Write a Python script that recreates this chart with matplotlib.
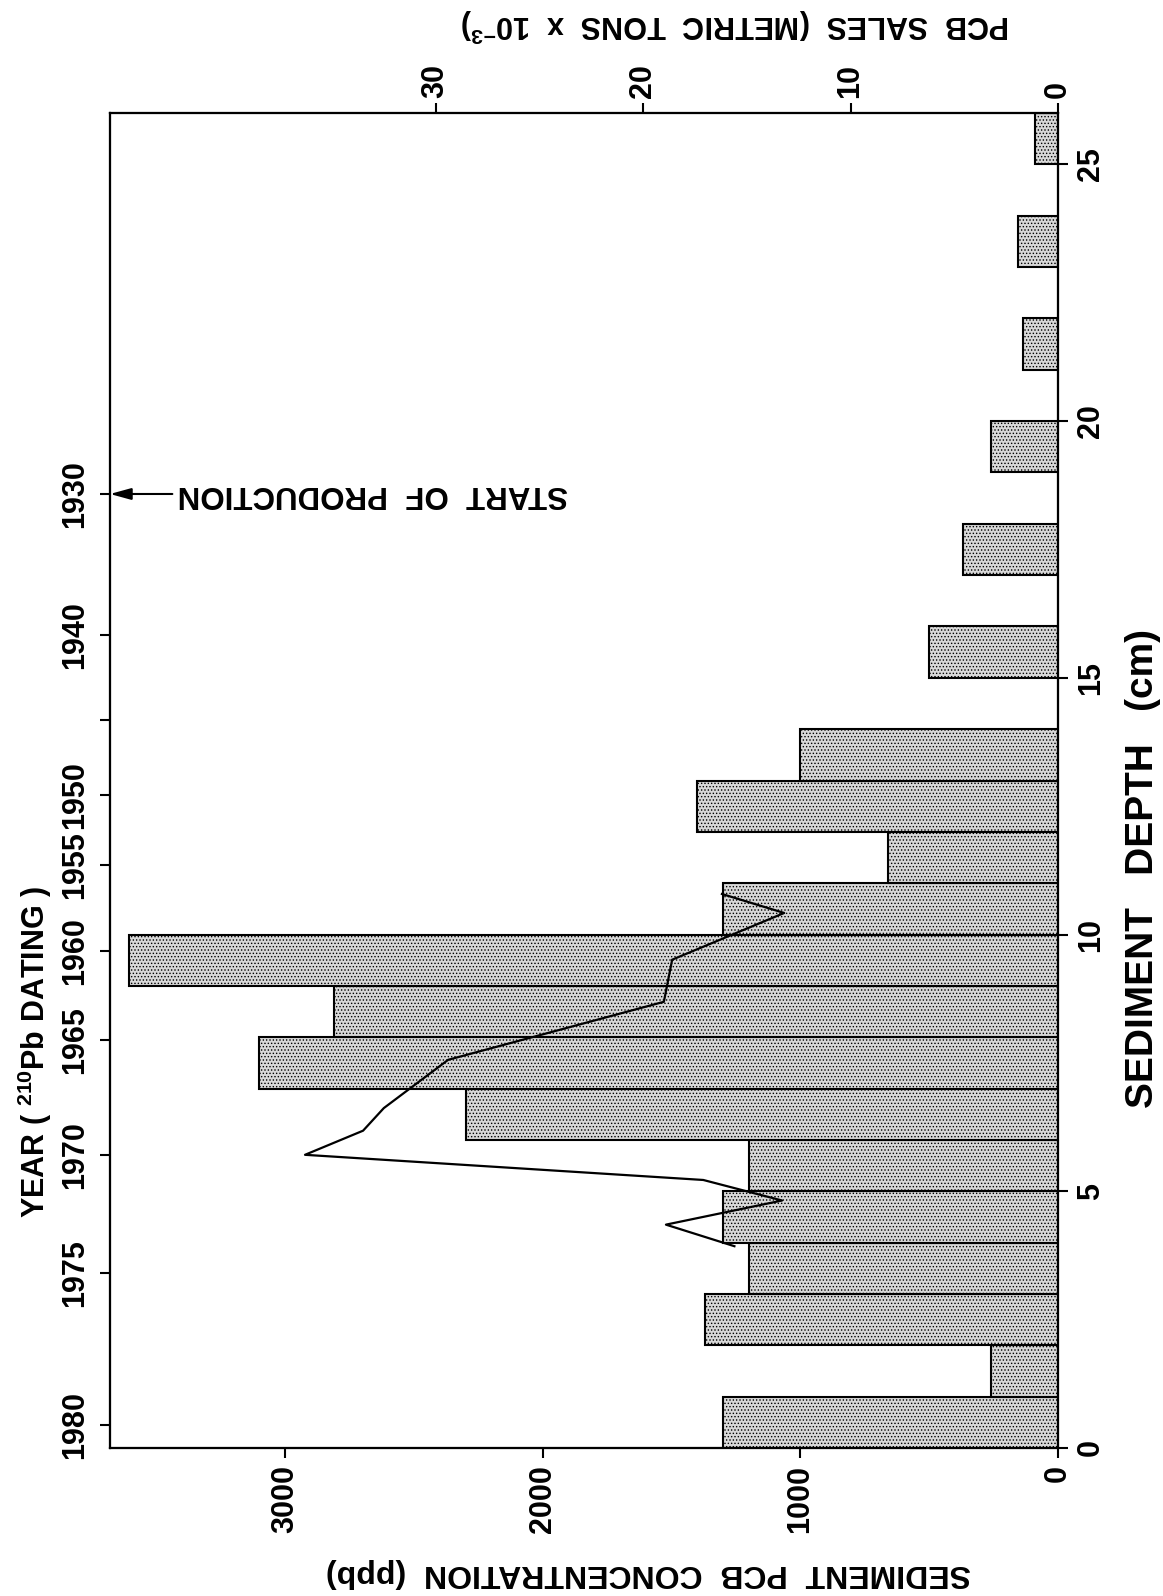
import numpy as np
import matplotlib
matplotlib.use("Agg")
import matplotlib.pyplot as plt

plt.rcParams['font.family'] = ['Liberation Sans', 'DejaVu Sans']
plt.rcParams['font.weight'] = 'bold'
plt.rcParams['mathtext.fontset'] = 'custom'
plt.rcParams['mathtext.rm'] = 'Liberation Sans:bold'
plt.rcParams['mathtext.it'] = 'Liberation Sans:bold'
plt.rcParams['mathtext.bf'] = 'Liberation Sans:bold'
plt.rcParams['hatch.linewidth'] = 0.6

# fatias de sedimento de 1 cm (topo de cada fatia) e concentracao de PCB (ppb)
profundidade = [0, 1, 2, 3, 4, 5, 6, 7, 8, 9, 10, 11, 12, 13, 15, 17, 19, 21, 23, 25]
concentracao = [1300, 260, 1370, 1200, 1300, 1200, 2300, 3100, 2810, 3605,
                1300, 660, 1400, 1000, 500, 370, 262, 135, 155, 90]

# vendas de PCB (mil toneladas) ja posicionadas na escala de profundidade
vendas_prof = [3.93, 4.35, 4.82, 5.22, 5.71, 6.18, 6.62, 7.56, 8.69, 9.51, 10.42, 10.79]
vendas_kt = [15.6, 18.9, 13.3, 17.1, 36.3, 33.5, 32.5, 29.4, 19.0, 18.6, 13.2, 16.2]

# datacao por 210Pb: profundidade correspondente a cada ano
anos = [1980, 1975, 1970, 1965, 1960, 1955, 1950, 1945, 1940, 1930]
anos_prof = [0.45, 3.4, 5.7, 7.95, 9.68, 11.35, 12.72, 14.18, 15.84, 18.58]
anos_rotulo = ['1980', '1975', '1970', '1965', '1960', '1955', '1950', '', '1940', '1930']

inicio_producao = 1930

conc_ticks = [0, 1000, 2000, 3000]
prof_ticks = [0, 5, 10, 15, 20, 25]
vendas_ticks = [0, 10, 20, 30]

CONC_MAX = 3680
VENDAS_MAX = 45.7
PROF_MAX = 26

W, H = 1163, 1596


def px(x, y):
    return x / W, 1 - y / H


def estilo_eixo(a):
    for s in a.spines.values():
        s.set_linewidth(1.5)
    a.tick_params(direction='out', length=7, width=1.5, labelsize=22)


def main():
    fig = plt.figure(figsize=(W / 100, H / 100), dpi=100)
    ax = fig.add_axes([110 / W, 148 / H, 948 / W, 1335 / H])
    ax_ano = ax.twinx()
    ax_v = ax.twiny()

    ax.barh(profundidade, concentracao, height=1, align='edge',
            facecolor='#d8d8d8', edgecolor='black', linewidth=1.5,
            hatch='.....', zorder=2)
    ax.set_xlim(CONC_MAX, 0)
    ax.set_ylim(0, PROF_MAX)

    # concentracao embaixo, profundidade a direita
    ax.set_xticks(conc_ticks)
    ax.set_xticklabels([str(v) for v in conc_ticks], rotation=90)
    ax.yaxis.tick_right()
    ax.set_yticks(prof_ticks)
    ax.set_yticklabels([str(v) for v in prof_ticks], rotation=90, va='center')
    estilo_eixo(ax)
    ax.tick_params(axis='x', pad=5)
    ax.tick_params(axis='y', pad=6)

    # anos a esquerda
    ax_ano.set_ylim(0, PROF_MAX)
    ax_ano.yaxis.tick_left()
    ax_ano.set_yticks(anos_prof)
    ax_ano.set_yticklabels(anos_rotulo, rotation=90, va='center')
    estilo_eixo(ax_ano)
    ax_ano.tick_params(axis='y', pad=7)

    # vendas no topo
    ax_v.set_xlim(VENDAS_MAX, 0)
    ax_v.set_xticks(vendas_ticks)
    ax_v.set_xticklabels([str(v) for v in vendas_ticks], rotation=90)
    estilo_eixo(ax_v)
    ax_v.tick_params(axis='x', pad=4)
    ax_v.plot(vendas_kt, vendas_prof, color='black', linewidth=1.6, zorder=3)

    # seta do inicio da producao
    d0 = anos_prof[anos.index(inicio_producao)]
    ax.annotate('', xy=(CONC_MAX, d0), xytext=(3438, d0),
                arrowprops=dict(arrowstyle='-|>,head_length=0.8,head_width=0.22',
                                color='black', lw=1.5, mutation_scale=16,
                                shrinkA=0, shrinkB=0),
                annotation_clip=False, zorder=4)
    ax.text(2660, d0, 'START  OF  PRODUCTION', rotation=180,
            ha='center', va='center', fontsize=22.5)

    fig.text(*px(648, 1573), 'SEDIMENT  PCB  CONCENTRATION  (ppb)', rotation=180,
             ha='center', va='center', fontsize=23)
    fig.text(*px(735, 25), r'PCB  SALES  (METRIC  TONS  x  10$^{-3}$)', rotation=180,
             ha='center', va='center', fontsize=22)
    fig.text(*px(35, 1052), r'YEAR ( $^{210}$Pb DATING )', rotation=90,
             ha='center', va='center', fontsize=22)
    fig.text(*px(1143, 868), 'SEDIMENT   DEPTH   (cm)', rotation=90,
             ha='center', va='center', fontsize=28)

    fig.savefig('out.png', dpi=100)


if __name__ == "__main__":
    main()
